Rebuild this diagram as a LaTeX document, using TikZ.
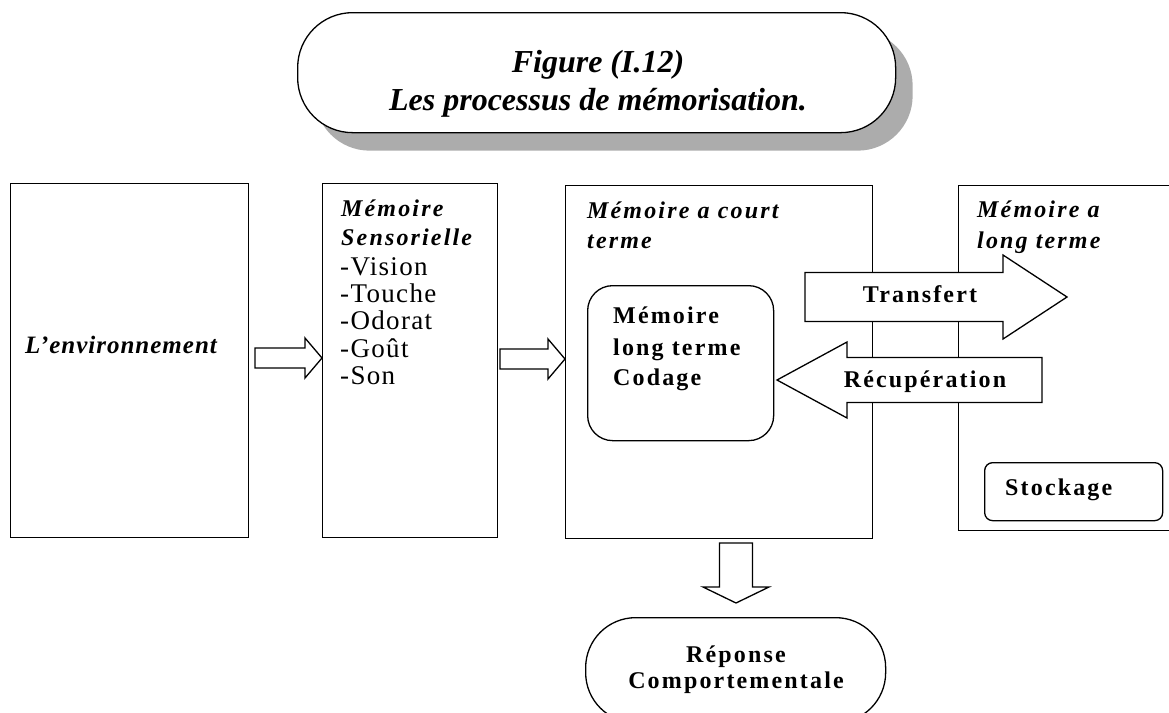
\documentclass[tikz,border=0pt]{standalone}
\usepackage{fontspec}
\setmainfont{Liberation Serif}
\newfontfamily\spaced[LetterSpace=9]{Liberation Serif}
\newfontfamily\listfont[LetterSpace=5]{Liberation Serif}
\newfontfamily\envfont[LetterSpace=4]{Liberation Serif}
\usetikzlibrary{calc,shadows}

% filled block arrow between two named points:
% #1 tail, #2 tip, #3 half shaft width, #4 half head width, #5 head length
\newcommand{\blockarrow}[5]{%
  \coordinate (ba-h) at ($(#2)!#5!(#1)$);
  \draw[blockarr] ($(#1)!#3!90:(#2)$) -- ($(ba-h)!#3!90:(#2)$)
    -- ($(ba-h)!#4!90:(#2)$) -- (#2) -- ($(ba-h)!#4!-90:(#2)$)
    -- ($(ba-h)!#3!-90:(#2)$) -- ($(#1)!#3!-90:(#2)$) -- cycle;
}

\tikzset{
  frame/.style={draw, line width=1.3pt, anchor=north west, inner sep=0pt},
  blockarr/.style={draw, fill=white, line width=1.3pt, line join=miter},
  txt/.style={inner sep=0pt, anchor=base west, font=\fontsize{27}{27}\selectfont\listfont},
  bi/.style={txt, font=\fontsize{24}{27}\selectfont\spaced\bfseries\itshape},
  bd/.style={txt, font=\fontsize{24}{27}\selectfont\spaced\bfseries},
  ttl/.style={inner sep=0pt, anchor=base, font=\fontsize{32}{38}\selectfont\bfseries\itshape},
}

\begin{document}
\begin{tikzpicture}[x=1pt, y=-1pt]
\path[use as bounding box] (0,0) rectangle (1169,712);
\clip (0,0) rectangle (1169,712);

% title banner with its shadow
\node[frame, fill=white, rounded corners=55pt, minimum width=598pt, minimum height=120pt,
      drop shadow={shadow xshift=17pt, shadow yshift=-18pt, fill=gray!65, opacity=1}]
      (title) at (297,12) {};
\node[ttl] (t1) at (598,72) {Figure (I.12)};
\node[ttl] (t2) at (598,110) {Les processus de mémorisation.};

% the four stages
\node[frame, minimum width=238pt, minimum height=354pt] (env) at (10,183) {};
\node[frame, minimum width=175pt, minimum height=354pt] (sens) at (322,183) {};
\node[frame, minimum width=307pt, minimum height=353pt] (court) at (565,185) {};
\node[frame, minimum width=222pt, minimum height=345pt] (long) at (958,185) {};

% inner boxes
\node[frame, rounded corners=25pt, minimum width=186pt, minimum height=155pt] (codage) at (587,285) {};
\node[frame, rounded corners=8pt, minimum width=178pt, minimum height=58pt] (stock) at (984,462) {};
\node[frame, rounded corners=50pt, minimum width=300pt, minimum height=105pt] (rep) at (585,617) {};

% arrows
\coordinate (a1s) at (255,358);
\coordinate (a1t) at (sens.west |- a1s);
\blockarrow{a1s}{a1t}{10pt}{20pt}{17pt}
\coordinate (a2s) at (500,359);
\coordinate (a2t) at (court.west |- a2s);
\blockarrow{a2s}{a2t}{10pt}{20pt}{17pt}
\coordinate (trs) at (805,297);
\coordinate (trt) at (1067,297);
\blockarrow{trs}{trt}{24.5pt}{42pt}{64pt}
\coordinate (res) at (1042,380);
\coordinate (ret) at (777,380);
\blockarrow{res}{ret}{22.5pt}{38pt}{70pt}
\coordinate (dws) at (736,543);
\coordinate (dwt) at (736,603);
\blockarrow{dws}{dwt}{16.5pt}{33pt}{16pt}

% texts
\node[inner sep=0pt, anchor=base, font=\fontsize{25}{27}\selectfont\envfont\bfseries\itshape]
  (envt) at (121,353) {L’environnement};

\node[bi] (s1) at (341,216) {Mémoire};
\node[bi] (s2) at (341,245) {Sensorielle};
\node[txt] (s3) at (340,275) {-Vision};
\node[txt] (s4) at (340,302) {-Touche};
\node[txt] (s5) at (340,329) {-Odorat};
\node[txt] (s6) at (340,357) {-Goût};
\node[txt] (s7) at (340,384) {-Son};

\node[bi] (c1) at (587,218) {Mémoire a court};
\node[bi] (c2) at (587,248) {terme};

\node[bd] (k1) at (613,323) {Mémoire};
\node[bd] (k2) at (613,355) {long terme};
\node[bd] (k3) at (613,385) {Codage};

\node[bi] (l1) at (977,217) {Mémoire a};
\node[bi] (l2) at (977,248) {long terme};

\node[bd, anchor=base] (trl) at (920,302) {Transfert};
\node[bd, anchor=base] (rel) at (925,387) {Récupération};
\node[bd] (stl) at (1005,495) {Stockage};

\node[bd, anchor=base] (r1) at (736,662) {Réponse};
\node[bd, anchor=base] (r2) at (736,688) {Comportementale};
\end{tikzpicture}
\end{document}
